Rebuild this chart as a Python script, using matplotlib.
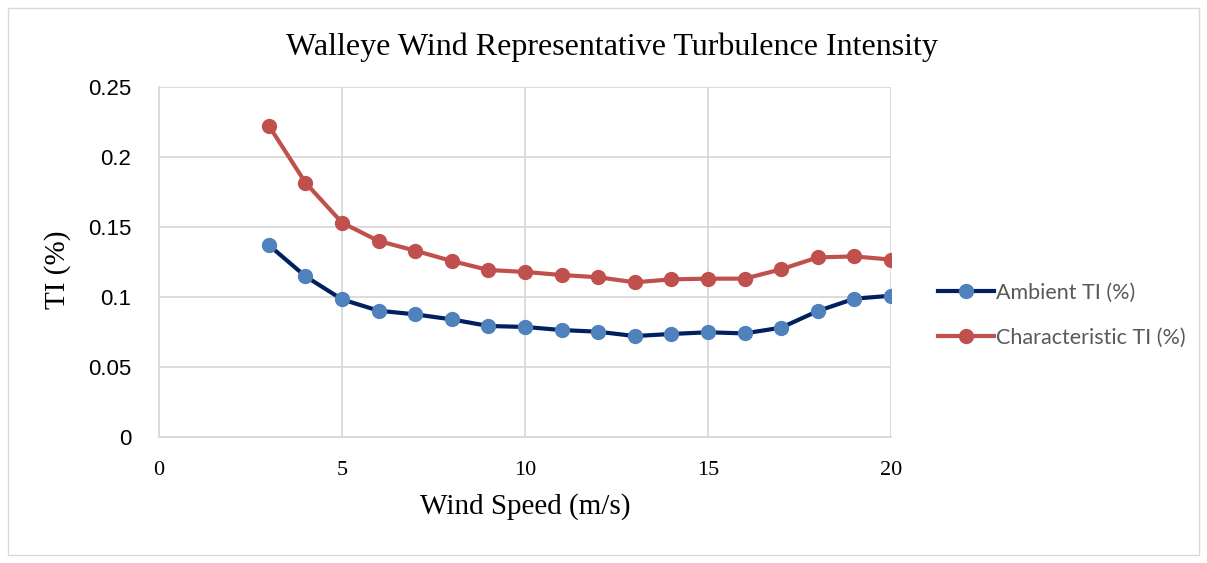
import matplotlib
matplotlib.use("Agg")
import matplotlib.pyplot as plt
from matplotlib.patches import Rectangle

wind_speed = [3, 4, 5, 6, 7, 8, 9, 10, 11, 12, 13, 14, 15, 16, 17, 18, 19, 20]
ambient_ti = [0.1371, 0.1148, 0.0983, 0.0902, 0.0876, 0.0840, 0.0793, 0.0786, 0.0764,
              0.0752, 0.0721, 0.0736, 0.0748, 0.0740, 0.0781, 0.0900, 0.0988, 0.1009]
characteristic_ti = [0.2224, 0.1817, 0.1531, 0.1400, 0.1331, 0.1257, 0.1193, 0.1179, 0.1157,
                     0.1141, 0.1105, 0.1126, 0.1131, 0.1131, 0.1198, 0.1283, 0.1290, 0.1267]
x_ticks = [0, 5, 10, 15, 20]
y_ticks = [0, 0.05, 0.1, 0.15, 0.2, 0.25]
y_tick_labels = ["0", "0.05", "0.1", "0.15", "0.2", "0.25"]

W, H = 1207, 563
fig = plt.figure(figsize=(W / 100, H / 100), dpi=100)
fig.patches.append(Rectangle((8 / W, 8 / H), (1199 - 8) / W, (555 - 8) / H,
                             transform=fig.transFigure, fill=False,
                             edgecolor="#d9d9d9", linewidth=1))

ax = fig.add_axes([159 / W, (H - 437) / H, (891 - 159) / W, (437 - 87) / H])

ax.plot(wind_speed, ambient_ti, color="#002060", linewidth=3, marker="o",
        markersize=10, markerfacecolor="#4f81bd", markeredgecolor="#4f81bd",
        label="Ambient TI (%)", zorder=3)
ax.plot(wind_speed, characteristic_ti, color="#c0504d", linewidth=3, marker="o",
        markersize=10, markerfacecolor="#c0504d", markeredgecolor="#c0504d",
        label="Characteristic TI (%)", zorder=3)

ax.set_xlim(0, 20)
ax.set_ylim(0, 0.25)
ax.set_xticks(x_ticks)
ax.set_yticks(y_ticks)
ax.set_yticklabels(y_tick_labels)
ax.grid(True, color="#d9d9d9", linewidth=1.3)
ax.set_axisbelow(True)
for s in ax.spines.values():
    s.set_visible(False)
ax.spines["left"].set_visible(True)
ax.spines["bottom"].set_visible(True)
ax.spines["left"].set_color("#d9d9d9")
ax.spines["bottom"].set_color("#d9d9d9")
ax.spines["left"].set_linewidth(1.3)
ax.spines["bottom"].set_linewidth(1.3)
ax.tick_params(length=0)
ax.tick_params(axis="y", pad=20, labelsize=16, labelfontfamily="Liberation Sans")
ax.tick_params(axis="x", pad=17, labelsize=16, labelfontfamily="Liberation Serif")

ax.set_xlabel("Wind Speed (m/s)", fontsize=21, family="Liberation Serif", labelpad=10)
ax.set_ylabel("TI (%)", fontsize=21, family="Liberation Serif")
ax.yaxis.set_label_coords((71 - 159) / 732, 0.477)
fig.text(612 / W, 1 - 47 / H, "Walleye Wind Representative Turbulence Intensity",
         ha="center", va="center", fontsize=23, family="Liberation Serif")

leg = fig.legend(loc="center left", bbox_to_anchor=(938 / W, 1 - 315 / H),
                 frameon=False, prop={"family": "Lato", "size": 15.5},
                 handlelength=2.6, labelspacing=1.15, handletextpad=0.1,
                 borderpad=0, borderaxespad=0)
for t in leg.get_texts():
    t.set_color("#595959")

fig.savefig("out.png", dpi=100)
